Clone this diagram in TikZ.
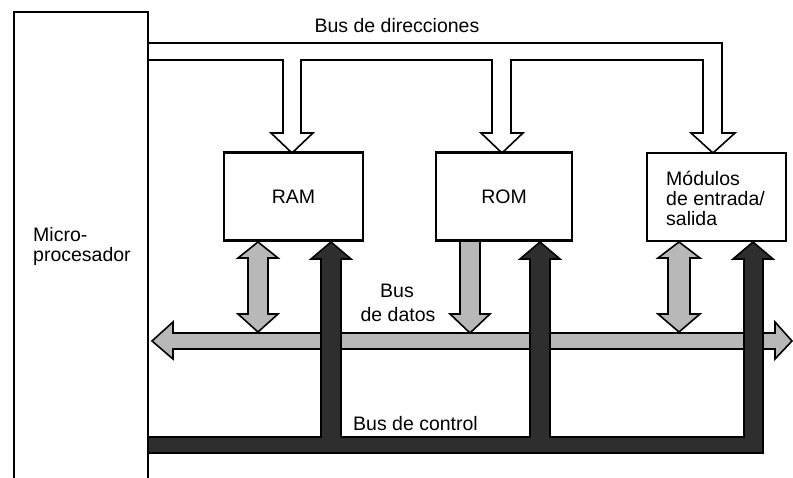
\documentclass[tikz,border=0pt]{standalone}
\usepackage{fontspec}
\setmainfont{Liberation Sans}
\begin{document}
\begin{tikzpicture}[x=1pt,y=-1pt,
  lbl/.style={font=\fontsize{19.5}{20}\selectfont, inner sep=0pt},
  addrbus/.style={draw, line width=1.6pt, line join=miter},
  lightbus/.style={draw, line width=1.6pt, fill=black!28, line join=miter},
  darkbus/.style={draw, line width=1.6pt, fill=black!82, line join=miter},
  unitbox/.style={draw, line width=2.2pt, fill=white, inner sep=0pt,
    font=\fontsize{19.5}{20}\selectfont},
  cpuline/.style={line width=2.6pt}]
\useasboundingbox (0,0) rectangle (793,478);

% address bus (outlined, three branches down to the units)
\path[addrbus] (148,43) -- (722,43) -- (722,133) -- (735,133) -- (713,153)
  -- (691,133) -- (703,133) -- (703,60) -- (511,60) -- (511,133) -- (523,133)
  -- (502,153) -- (481,133) -- (492,133) -- (492,60) -- (301,60) -- (301,133)
  -- (313,133) -- (292,153) -- (271,133) -- (283,133) -- (283,60) -- (148,60);

% memory and I/O units
\node[unitbox, minimum width=139pt, minimum height=88pt] (ram) at (293.5,196.5) {RAM};
\node[unitbox, minimum width=136pt, minimum height=88pt] (rom) at (504,196.5) {ROM};
\node[unitbox, minimum width=139pt, minimum height=88pt] (io) at (716.5,197) {};
\node[lbl, anchor=base west] (io1) at (666,186) {Módulos};
\node[lbl, anchor=base west] (io2) at (666,206) {de entrada/};
\node[lbl, anchor=base west] (io3) at (666,226) {salida};

% data lines between the units and the data bus
\path[lightbus] (258,242) -- (278,258) -- (268,258) -- (268,314) -- (278,314)
  -- (258,332) -- (238,314) -- (248,314) -- (248,258) -- (238,258) -- cycle;
\path[lightbus] (460,241) -- (480,241) -- (480,314) -- (490,314) -- (470,333)
  -- (450,314) -- (460,314) -- cycle;
\path[lightbus] (679,242) -- (700,258) -- (690,258) -- (690,314) -- (700,314)
  -- (679,332) -- (658,314) -- (668,314) -- (668,258) -- (658,258) -- cycle;

% data bus (double-headed)
\path[lightbus] (152,341) -- (173,322) -- (173,333) -- (775,333) -- (775,322)
  -- (792,341) -- (775,359) -- (775,349) -- (173,349) -- (173,359) -- cycle;

% control bus with its three branches up to the units
\path[darkbus] (148,437) -- (321,437) -- (321,259) -- (311,259) -- (331,242)
  -- (351,259) -- (341,259) -- (341,437) -- (530,437) -- (530,259) -- (520,259)
  -- (540,242) -- (560,259) -- (550,259) -- (550,437) -- (744,437) -- (744,259)
  -- (733,259) -- (753,242) -- (773,259) -- (763,259) -- (763,453) -- (148,453);

% microprocessor (open at the bottom)
\draw[cpuline] (14,478) -- (14,12) -- (148,12) -- (148,478);
\node[lbl, anchor=base west] (cpu1) at (33,242) {Micro-};
\node[lbl, anchor=base west] (cpu2) at (33,262) {procesador};

% bus labels
\node[lbl, anchor=base] (addrlbl) at (397,33) {Bus de direcciones};
\node[lbl, anchor=base] (datalbl1) at (397,298) {Bus};
\node[lbl, anchor=base] (datalbl2) at (398,322) {de datos};
\node[lbl, anchor=base west] (ctrllbl) at (353,430) {Bus de control};
\end{tikzpicture}
\end{document}
